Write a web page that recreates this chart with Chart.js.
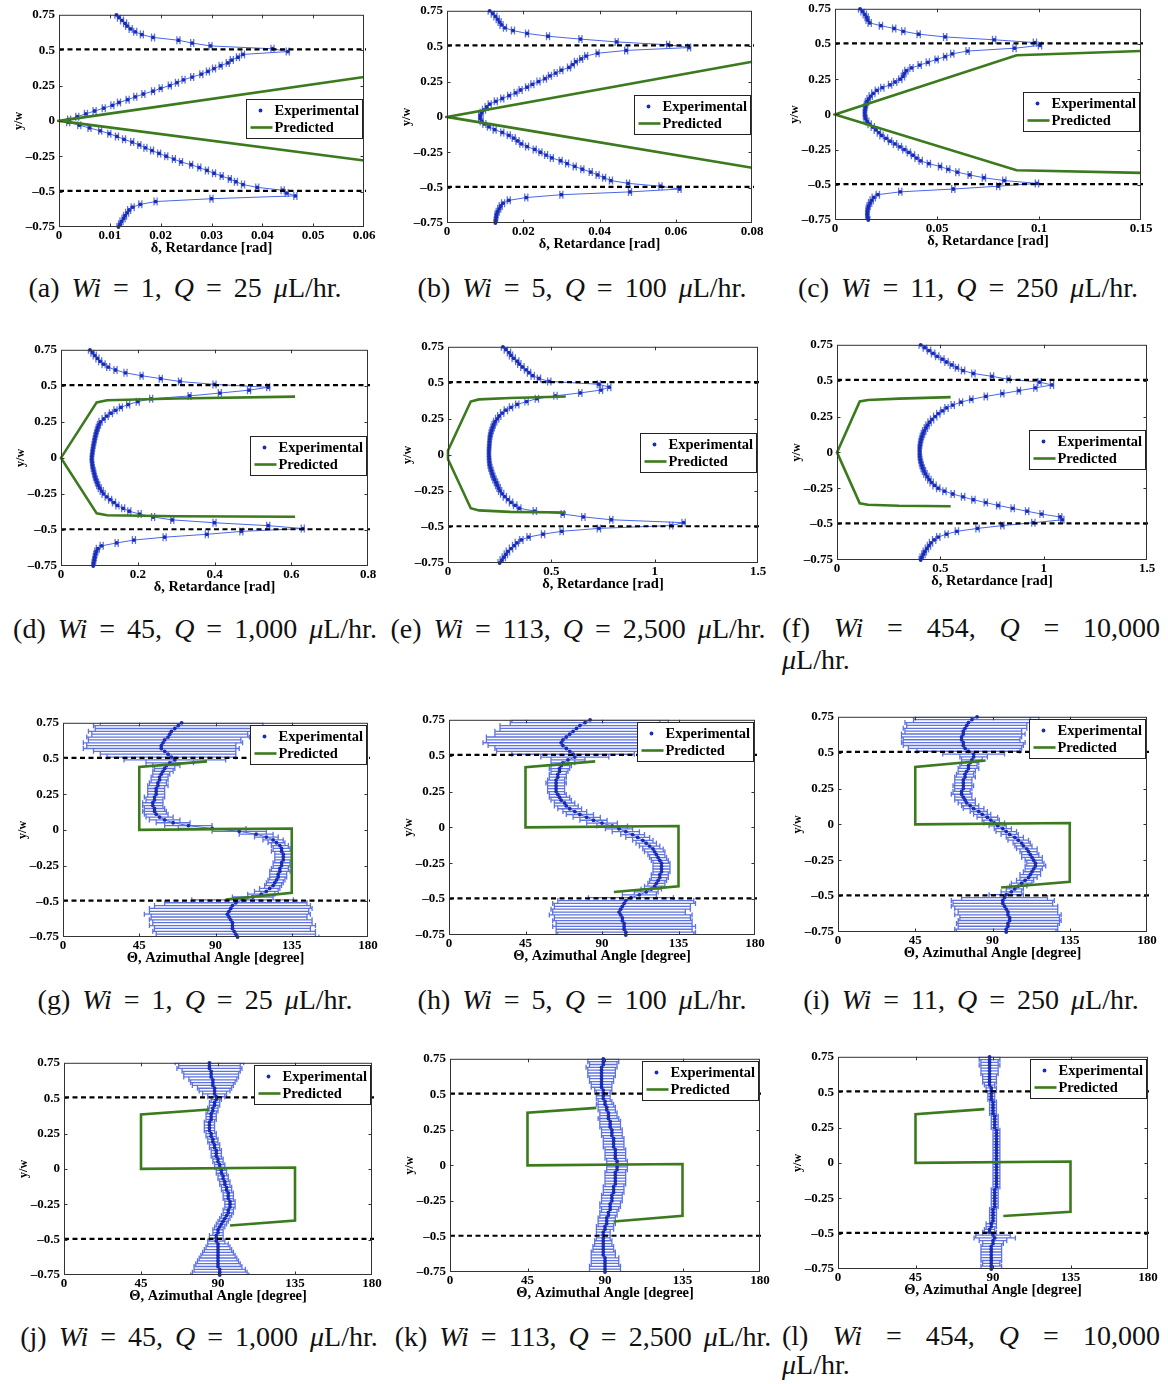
<!DOCTYPE html>
<html>
<head>
<meta charset="utf-8">
<script src="https://cdn.jsdelivr.net/npm/chart.js@4.4.1/dist/chart.umd.min.js"></script>
<style>
  html, body { margin: 0; padding: 0; background: #fff; }
  #fig { position: relative; width: 1168px; height: 1384px; background: #fff; overflow: hidden; }
  .cap { position: absolute; font-family: "Liberation Serif", "Times New Roman", serif; font-size: 28px;
         color: #111; white-space: nowrap; line-height: 30px; word-spacing: 5px; }
  .cap.center { text-align: center; }
  .cap.spread { display: flex; justify-content: space-between; word-spacing: 0; }
</style>
</head>
<body>
<div id="fig">
  <div class="cap center" style="left:-15px;top:273px;width:400px">(a) <i>Wi</i> = 1, <i>Q</i> = 25 <i>μ</i>L/hr.</div>
  <div class="cap center" style="left:382px;top:273px;width:400px">(b) <i>Wi</i> = 5, <i>Q</i> = 100 <i>μ</i>L/hr.</div>
  <div class="cap center" style="left:768px;top:273px;width:400px">(c) <i>Wi</i> = 11, <i>Q</i> = 250 <i>μ</i>L/hr.</div>

  <div class="cap center" style="left:-5px;top:614px;width:400px">(d) <i>Wi</i> = 45, <i>Q</i> = 1,000 <i>μ</i>L/hr.</div>
  <div class="cap center" style="left:378px;top:614px;width:400px">(e) <i>Wi</i> = 113, <i>Q</i> = 2,500 <i>μ</i>L/hr.</div>
  <div class="cap spread" style="left:782px;top:613px;width:378px"><span>(f)</span><span><i>Wi</i></span><span>=</span><span>454,</span><span><i>Q</i></span><span>=</span><span>10,000</span></div>
  <div class="cap" style="left:782px;top:645px"><i>μ</i>L/hr.</div>

  <div class="cap center" style="left:-5px;top:985px;width:400px">(g) <i>Wi</i> = 1, <i>Q</i> = 25 <i>μ</i>L/hr.</div>
  <div class="cap center" style="left:382px;top:985px;width:400px">(h) <i>Wi</i> = 5, <i>Q</i> = 100 <i>μ</i>L/hr.</div>
  <div class="cap center" style="left:771px;top:985px;width:400px">(i) <i>Wi</i> = 11, <i>Q</i> = 250 <i>μ</i>L/hr.</div>

  <div class="cap center" style="left:-1px;top:1322px;width:400px">(j) <i>Wi</i> = 45, <i>Q</i> = 1,000 <i>μ</i>L/hr.</div>
  <div class="cap center" style="left:383px;top:1322px;width:400px">(k) <i>Wi</i> = 113, <i>Q</i> = 2,500 <i>μ</i>L/hr.</div>
  <div class="cap spread" style="left:782px;top:1321px;width:378px"><span>(l)</span><span><i>Wi</i></span><span>=</span><span>454,</span><span><i>Q</i></span><span>=</span><span>10,000</span></div>
  <div class="cap" style="left:782px;top:1350px"><i>μ</i>L/hr.</div>
</div>
<script>
// Normalised channel position y/w of every measurement row (shared by all panels)
const yw = [
  0.75, 0.73, 0.71, 0.69, 0.67, 0.65, 0.63, 0.61, 0.59, 0.57,
  0.55, 0.53, 0.51, 0.49, 0.47, 0.45, 0.43, 0.41, 0.39, 0.37,
  0.35, 0.33, 0.31, 0.29, 0.27, 0.25, 0.23, 0.21, 0.19, 0.17,
  0.15, 0.13, 0.11, 0.09, 0.07, 0.05, 0.03, 0.01, -0.01, -0.03,
  -0.05, -0.07, -0.09, -0.11, -0.13, -0.15, -0.17, -0.19, -0.21, -0.23,
  -0.25, -0.27, -0.29, -0.31, -0.33, -0.35, -0.37, -0.39, -0.41, -0.43,
  -0.45, -0.47, -0.49, -0.51, -0.53, -0.55, -0.57, -0.59, -0.61, -0.63,
  -0.65, -0.67, -0.69, -0.71, -0.73, -0.75
];

// Measured retardance δ [rad]
const retA = [
  0.0113, 0.0118, 0.0124, 0.0130, 0.0134, 0.0141, 0.0150, 0.0163, 0.0185, 0.0235,
  0.0262, 0.0298, 0.0420, 0.0450, 0.0362, 0.0352, 0.0340, 0.0332, 0.0318, 0.0305,
  0.0293, 0.0280, 0.0262, 0.0245, 0.0232, 0.0218, 0.0200, 0.0185, 0.0166, 0.0150,
  0.0135, 0.0118, 0.0105, 0.0088, 0.0070, 0.0053, 0.0036, 0.0020, 0.0018, 0.0040,
  0.0060, 0.0081, 0.0099, 0.0114, 0.0128, 0.0144, 0.0158, 0.0170, 0.0183, 0.0197,
  0.0211, 0.0226, 0.0240, 0.0260, 0.0276, 0.0291, 0.0305, 0.0320, 0.0336, 0.0348,
  0.0362, 0.0390, 0.0440, 0.0448, 0.0465, 0.0300, 0.0190, 0.0160, 0.0145, 0.0138,
  0.0134, 0.0130, 0.0127, 0.0123, 0.0120, 0.0117
];
const retB = [
  0.0112, 0.0120, 0.0127, 0.0133, 0.0138, 0.0143, 0.0152, 0.0173, 0.0210, 0.0265,
  0.0350, 0.0445, 0.0580, 0.0635, 0.0470, 0.0395, 0.0365, 0.0352, 0.0338, 0.0330,
  0.0320, 0.0300, 0.0285, 0.0270, 0.0257, 0.0240, 0.0224, 0.0210, 0.0193, 0.0180,
  0.0163, 0.0145, 0.0128, 0.0112, 0.0104, 0.0097, 0.0091, 0.0087, 0.0087, 0.0091,
  0.0098, 0.0110, 0.0125, 0.0145, 0.0162, 0.0175, 0.0185, 0.0195, 0.0210, 0.0230,
  0.0245, 0.0260, 0.0275, 0.0298, 0.0315, 0.0335, 0.0355, 0.0377, 0.0395, 0.0412,
  0.0430, 0.0475, 0.0560, 0.0610, 0.0480, 0.0300, 0.0208, 0.0162, 0.0147, 0.0141,
  0.0137, 0.0133, 0.0130, 0.0129, 0.0128, 0.0127
];
const retC = [
  0.0123, 0.0135, 0.0146, 0.0155, 0.0160, 0.0170, 0.0225, 0.0290, 0.0335, 0.0410,
  0.0540, 0.0780, 0.0980, 0.1005, 0.0880, 0.0650, 0.0575, 0.0540, 0.0498, 0.0455,
  0.0415, 0.0375, 0.0350, 0.0340, 0.0333, 0.0320, 0.0295, 0.0270, 0.0232, 0.0205,
  0.0188, 0.0175, 0.0165, 0.0157, 0.0152, 0.0149, 0.0147, 0.0146, 0.0147, 0.0150,
  0.0158, 0.0170, 0.0185, 0.0200, 0.0215, 0.0228, 0.0250, 0.0270, 0.0294, 0.0318,
  0.0340, 0.0362, 0.0382, 0.0400, 0.0420, 0.0460, 0.0515, 0.0555, 0.0600, 0.0660,
  0.0730, 0.0830, 0.0990, 0.0800, 0.0580, 0.0320, 0.0210, 0.0190, 0.0180, 0.0172,
  0.0165, 0.0161, 0.0159, 0.0158, 0.0160, 0.0163
];
const retD = [
  0.0755, 0.0820, 0.0880, 0.0950, 0.1020, 0.1110, 0.1230, 0.1420, 0.1680, 0.2100,
  0.2600, 0.3100, 0.4000, 0.5400, 0.4900, 0.4140, 0.3350, 0.2350, 0.2000, 0.1750,
  0.1560, 0.1420, 0.1300, 0.1190, 0.1110, 0.1030, 0.0990, 0.0960, 0.0935, 0.0915,
  0.0895, 0.0880, 0.0865, 0.0850, 0.0835, 0.0825, 0.0815, 0.0805, 0.0800, 0.0810,
  0.0818, 0.0830, 0.0850, 0.0868, 0.0885, 0.0910, 0.0940, 0.0970, 0.1010, 0.1060,
  0.1110, 0.1190, 0.1280, 0.1380, 0.1470, 0.1620, 0.1780, 0.2050, 0.2400, 0.2900,
  0.4000, 0.5400, 0.6300, 0.4700, 0.3800, 0.2700, 0.1900, 0.1450, 0.1060, 0.0960,
  0.0920, 0.0895, 0.0880, 0.0865, 0.0850, 0.0840
];
const retE = [
  0.266, 0.280, 0.295, 0.305, 0.318, 0.335, 0.345, 0.360, 0.378, 0.392,
  0.410, 0.440, 0.490, 0.730, 0.780, 0.740, 0.640, 0.520, 0.430, 0.380,
  0.335, 0.305, 0.280, 0.262, 0.248, 0.238, 0.228, 0.221, 0.216, 0.211,
  0.207, 0.204, 0.202, 0.201, 0.200, 0.199, 0.198, 0.198, 0.198, 0.199,
  0.200, 0.202, 0.205, 0.210, 0.214, 0.219, 0.225, 0.232, 0.238, 0.245,
  0.252, 0.262, 0.275, 0.290, 0.305, 0.325, 0.345, 0.420, 0.555, 0.655,
  0.790, 1.140, 1.080, 0.730, 0.550, 0.460, 0.390, 0.355, 0.333, 0.320,
  0.305, 0.290, 0.280, 0.270, 0.260, 0.250
];
const retF = [
  0.405, 0.425, 0.445, 0.465, 0.485, 0.510, 0.530, 0.555, 0.580, 0.610,
  0.660, 0.750, 0.830, 0.980, 1.040, 0.960, 0.880, 0.800, 0.720, 0.650,
  0.600, 0.560, 0.530, 0.510, 0.490, 0.475, 0.460, 0.448, 0.438, 0.430,
  0.422, 0.416, 0.411, 0.407, 0.404, 0.402, 0.400, 0.400, 0.400, 0.401,
  0.403, 0.406, 0.410, 0.415, 0.421, 0.428, 0.437, 0.447, 0.458, 0.472,
  0.490, 0.520, 0.560, 0.610, 0.660, 0.720, 0.780, 0.850, 0.920, 0.990,
  1.080, 1.090, 0.950, 0.800, 0.680, 0.580, 0.530, 0.490, 0.470, 0.455,
  0.445, 0.435, 0.425, 0.418, 0.410, 0.405
];
// Half-width of the retardance error bars [rad]
const retErrA = 0.0003, retErrB = 0.0004, retErrC = 0.0008;
const retErrD = 0.004, retErrE = 0.008, retErrF = 0.008;

// Measured azimuthal angle Θ [degree] and its standard deviation
const angG = [
  70, 68, 66, 64, 63, 62, 60, 59, 58, 58,
  60, 62, 64, 66, 63, 61, 60, 59, 58, 57,
  57, 56, 56, 55, 55, 55, 54, 54, 53, 53,
  54, 54, 55, 57, 60, 65, 74, 88, 104, 114,
  120, 124, 126, 128, 129, 129, 130, 130, 130, 129,
  129, 128, 128, 127, 127, 126, 125, 124, 122, 120,
  117, 112, 106, 102, 100, 99, 98, 97, 98, 99,
  100, 100, 100, 101, 102, 103
];
const errG = [
  48, 50, 47, 49, 46, 48, 45, 47, 44, 46,
  42, 40, 38, 30, 14, 8, 6, 6, 5, 5,
  5, 5, 6, 5, 5, 5, 6, 5, 6, 6,
  6, 7, 7, 8, 9, 10, 14, 20, 16, 10,
  7, 6, 5, 5, 5, 6, 5, 5, 5, 5,
  5, 5, 6, 5, 5, 5, 5, 5, 6, 7,
  8, 12, 30, 42, 46, 48, 47, 49, 46, 48,
  47, 49, 46, 48, 47, 48
];
const angH = [
  83, 80, 77, 75, 73, 71, 69, 67, 66, 67,
  69, 71, 73, 74, 70, 67, 66, 65, 65, 64,
  64, 63, 63, 63, 63, 63, 64, 65, 66, 68,
  69, 71, 74, 77, 81, 85, 90, 96, 100, 104,
  108, 111, 114, 116, 118, 120, 121, 122, 123, 124,
  125, 125, 125, 125, 124, 124, 123, 122, 121, 119,
  116, 112, 107, 104, 103, 102, 101, 100, 101, 102,
  102, 103, 103, 103, 104, 104
];
const errH = [
  46, 44, 47, 45, 46, 44, 47, 45, 46, 44,
  42, 43, 36, 20, 10, 7, 6, 6, 5, 5,
  5, 5, 6, 5, 5, 5, 5, 6, 6, 6,
  7, 7, 7, 8, 8, 8, 9, 9, 8, 8,
  7, 7, 6, 6, 6, 6, 6, 5, 5, 5,
  5, 5, 5, 5, 5, 5, 5, 5, 6, 6,
  7, 10, 25, 40, 42, 40, 41, 39, 42, 40,
  41, 40, 42, 40, 41, 40
];
const angI = [
  81, 78, 76, 75, 74, 73, 73, 72, 72, 73,
  73, 74, 76, 79, 79, 78, 77, 76, 76, 75,
  74, 74, 73, 73, 73, 73, 72, 72, 73, 74,
  75, 77, 79, 82, 84, 87, 89, 91, 93, 96,
  98, 100, 103, 105, 107, 108, 110, 111, 112, 113,
  114, 115, 115, 114, 113, 112, 111, 109, 107, 105,
  103, 101, 98, 97, 96, 96, 97, 98, 99, 99,
  100, 100, 99, 99, 98, 98
];
const errI = [
  36, 34, 37, 35, 36, 34, 36, 35, 34, 36,
  35, 33, 30, 18, 8, 6, 5, 5, 6, 5,
  5, 6, 5, 5, 6, 5, 5, 6, 5, 6,
  5, 5, 6, 5, 5, 6, 5, 6, 5, 5,
  6, 5, 5, 6, 5, 5, 6, 5, 5, 6,
  5, 5, 6, 5, 5, 6, 5, 5, 6, 5,
  5, 6, 10, 25, 30, 29, 31, 30, 29, 31,
  29, 30, 30, 29, 30, 29
];
const angJ = [
  85, 85, 85, 86, 86, 86, 87, 87, 87, 88,
  88, 88, 89, 89, 88, 88, 87, 87, 86, 86,
  86, 85, 85, 85, 85, 86, 86, 87, 87, 88,
  88, 89, 89, 89, 90, 90, 91, 91, 92, 92,
  93, 93, 94, 94, 95, 95, 96, 96, 96, 97,
  97, 97, 96, 96, 95, 94, 93, 92, 91, 90,
  90, 89, 89, 89, 90, 90, 90, 90, 90, 90,
  90, 90, 90, 91, 91, 91
];
const errJ = [
  20, 18, 19, 17, 16, 16, 14, 13, 12, 10,
  9, 7, 5, 3, 3, 3, 3, 3, 3, 3,
  3, 3, 3, 3, 3, 3, 3, 3, 3, 3,
  3, 3, 3, 3, 3, 3, 3, 3, 3, 3,
  3, 3, 3, 3, 3, 3, 3, 3, 3, 3,
  3, 3, 3, 3, 3, 3, 3, 3, 3, 3,
  3, 4, 4, 5, 6, 7, 8, 9, 10, 11,
  12, 13, 14, 15, 16, 17
];
const angK = [
  89, 89, 89, 88, 88, 88, 88, 88, 88, 88,
  88, 89, 89, 89, 89, 90, 90, 91, 91, 92,
  92, 92, 93, 93, 93, 94, 94, 94, 95, 95,
  95, 95, 96, 96, 96, 96, 97, 97, 97, 97,
  96, 96, 96, 96, 96, 95, 95, 95, 94, 94,
  94, 93, 93, 93, 92, 92, 91, 91, 91, 90,
  90, 89, 89, 89, 89, 89, 89, 89, 89, 89,
  90, 90, 90, 90, 90, 90
];
const errK = [
  9, 9, 8, 9, 8, 8, 8, 7, 7, 6,
  6, 5, 4, 4, 4, 4, 5, 5, 5, 5,
  5, 6, 6, 6, 6, 6, 6, 6, 6, 6,
  6, 6, 6, 6, 6, 6, 6, 6, 6, 6,
  6, 6, 6, 6, 6, 6, 6, 6, 6, 6,
  6, 6, 6, 5, 5, 5, 5, 5, 5, 5,
  5, 4, 4, 4, 5, 5, 6, 6, 7, 7,
  8, 8, 8, 9, 9, 9
];
const angL = [
  88, 88, 88, 88, 88, 88, 88, 88, 88, 88,
  88, 89, 89, 89, 89, 89, 90, 90, 90, 90,
  90, 91, 91, 91, 91, 91, 92, 92, 92, 92,
  92, 92, 92, 92, 92, 92, 92, 92, 92, 92,
  92, 92, 92, 92, 92, 92, 92, 91, 91, 91,
  91, 91, 91, 91, 90, 90, 90, 90, 90, 89,
  89, 88, 88, 90, 91, 90, 90, 89, 89, 89,
  89, 89, 89, 89, 89, 89
];
const errL = [
  6, 6, 5, 6, 5, 5, 5, 4, 4, 4,
  3, 3, 3, 2, 2, 2, 2, 2, 2, 2,
  2, 2, 2, 2, 2, 2, 2, 2, 2, 2,
  2, 2, 2, 2, 2, 2, 2, 2, 2, 2,
  2, 2, 2, 2, 2, 2, 2, 2, 2, 2,
  2, 2, 2, 2, 2, 2, 2, 2, 2, 3,
  3, 3, 4, 10, 12, 8, 6, 6, 6, 6,
  6, 6, 6, 5, 6, 6
];

// Model prediction curves (x value, y/w)
const predAx = [0.06, 0, 0.06];
const predAy = [0.31, 0, -0.28];
const predBx = [0.08, 0, 0.08];
const predBy = [0.39, 0, -0.36];
const predCx = [0.15, 0.089, 0, 0.089, 0.15];
const predCy = [0.45, 0.42, 0, -0.397, -0.415];
const predDx = [0.61, 0.30, 0.12, 0.093, 0, 0.093, 0.12, 0.30, 0.61];
const predDy = [0.425, 0.412, 0.400, 0.385, 0, -0.385, -0.398, -0.405, -0.408];
const predEx = [0.57, 0.30, 0.15, 0.11, 0, 0, 0.11, 0.15, 0.30, 0.57];
const predEy = [0.405, 0.395, 0.385, 0.37, 0.03, -0.03, -0.37, -0.385, -0.395, -0.40];
const predFx = [0.55, 0.30, 0.15, 0.11, 0, 0.11, 0.15, 0.30, 0.55];
const predFy = [0.385, 0.375, 0.365, 0.355, 0, -0.355, -0.365, -0.372, -0.375];
const predGx = [85, 45, 45, 135, 135, 96];
const predGy = [0.48, 0.44, 0, 0.01, -0.44, -0.487];
const predHx = [86, 45, 45, 135, 135, 97];
const predHy = [0.46, 0.42, 0, 0.01, -0.41, -0.45];
const predIx = [86, 45, 45, 135, 135, 95];
const predIy = [0.445, 0.40, 0, 0.01, -0.40, -0.44];
const predJx = [85, 45, 45, 135, 135, 97];
const predJy = [0.42, 0.385, 0, 0.01, -0.365, -0.40];
const predKx = [85, 45, 45, 135, 135, 95];
const predKy = [0.405, 0.37, 0, 0.01, -0.355, -0.395];
const predLx = [85, 45, 45, 135, 135, 96];
const predLy = [0.38, 0.345, 0, 0.01, -0.345, -0.375];

// Channel walls (dashed lines)
const walls = [0.505, -0.495];

// Tick values and labels
const yTicks = [-0.75, -0.5, -0.25, 0, 0.25, 0.5, 0.75];
const yTickLabels = ['\u20130.75', '\u20130.5', '\u20130.25', '0', '0.25', '0.5', '0.75'];
const ticksA = [0, 0.01, 0.02, 0.03, 0.04, 0.05, 0.06];
const labelsA = ['0', '0.01', '0.02', '0.03', '0.04', '0.05', '0.06'];
const ticksB = [0, 0.02, 0.04, 0.06, 0.08];
const labelsB = ['0', '0.02', '0.04', '0.06', '0.08'];
const ticksC = [0, 0.05, 0.1, 0.15];
const labelsC = ['0', '0.05', '0.1', '0.15'];
const ticksD = [0, 0.2, 0.4, 0.6, 0.8];
const labelsD = ['0', '0.2', '0.4', '0.6', '0.8'];
const ticksEF = [0, 0.5, 1, 1.5];
const labelsEF = ['0', '0.5', '1', '1.5'];
const ticksAng = [0, 45, 90, 135, 180];
const labelsAng = ['0', '45', '90', '135', '180'];

const RET_TITLE = '\u03b4, Retardance [rad]';
const ANG_TITLE = '\u0398, Azimuthal Angle [degree]';

// ---- drawing setup ----
const SERIF = '"Liberation Serif", "Times New Roman", serif';
const GREEN = '#3b7a1d', LINE_BLUE = '#4a66e6', DOT_BLUE = '#1a2cb4', ERR_BLUE = '#5e73e0';
const PAD_L = 50, PAD_T = 10, PAD_R = 18, PAD_B = 30;

// plot boxes on the page: [left, top, right, bottom]
const panels = [
  { box: [59, 13, 364, 227],    max: 0.06, ticks: ticksA, labels: labelsA, xs: retA, err: retErrA, px: predAx, py: predAy, ret: true },
  { box: [447, 9, 752, 223],    max: 0.08, ticks: ticksB, labels: labelsB, xs: retB, err: retErrB, px: predBx, py: predBy, ret: true },
  { box: [835, 7, 1141, 220],   max: 0.15, ticks: ticksC, labels: labelsC, xs: retC, err: retErrC, px: predCx, py: predCy, ret: true },
  { box: [61, 348, 368, 566],   max: 0.8,  ticks: ticksD, labels: labelsD, xs: retD, err: retErrD, px: predDx, py: predDy, ret: true },
  { box: [448, 345, 758, 563],  max: 1.5,  ticks: ticksEF, labels: labelsEF, xs: retE, err: retErrE, px: predEx, py: predEy, ret: true },
  { box: [837, 343, 1147, 560], max: 1.5,  ticks: ticksEF, labels: labelsEF, xs: retF, err: retErrF, px: predFx, py: predFy, ret: true },
  { box: [63, 721, 368, 937],   max: 180, ticks: ticksAng, labels: labelsAng, xs: angG, err: errG, px: predGx, py: predGy, ret: false },
  { box: [449, 718, 755, 935],  max: 180, ticks: ticksAng, labels: labelsAng, xs: angH, err: errH, px: predHx, py: predHy, ret: false },
  { box: [838, 715, 1147, 932], max: 180, ticks: ticksAng, labels: labelsAng, xs: angI, err: errI, px: predIx, py: predIy, ret: false },
  { box: [64, 1061, 372, 1275], max: 180, ticks: ticksAng, labels: labelsAng, xs: angJ, err: errJ, px: predJx, py: predJy, ret: false },
  { box: [450, 1057, 760, 1272], max: 180, ticks: ticksAng, labels: labelsAng, xs: angK, err: errK, px: predKx, py: predKy, ret: false },
  { box: [838, 1055, 1148, 1269], max: 180, ticks: ticksAng, labels: labelsAng, xs: angL, err: errL, px: predLx, py: predLy, ret: false }
];

// Error bars under the markers; walls, axes box, inward ticks and legend on top
const panelDecor = {
  id: 'panelDecor',
  beforeDatasetsDraw(chart) {
    const { ctx, chartArea: a, scales: { x, y } } = chart;
    const exp = chart.data.datasets.find(d => d.xError !== undefined);
    ctx.save();
    ctx.beginPath();
    ctx.rect(a.left, a.top, a.right - a.left, a.bottom - a.top);
    ctx.clip();
    ctx.strokeStyle = ERR_BLUE;
    ctx.lineWidth = 1.3;
    ctx.beginPath();
    exp.data.forEach((pt, i) => {
      const e = Array.isArray(exp.xError) ? exp.xError[i] : exp.xError;
      const yy = y.getPixelForValue(pt.y);
      const x0 = x.getPixelForValue(pt.x - e);
      const x1 = x.getPixelForValue(pt.x + e);
      const h = exp.capHalf;
      ctx.moveTo(x0, yy); ctx.lineTo(x1, yy);
      ctx.moveTo(x0, yy - h); ctx.lineTo(x0, yy + h);
      ctx.moveTo(x1, yy - h); ctx.lineTo(x1, yy + h);
    });
    ctx.stroke();
    ctx.restore();
  },
  afterDatasetsDraw(chart, args, opts) {
    const { ctx, chartArea: a, scales: { x, y } } = chart;
    ctx.save();

    // channel walls
    ctx.strokeStyle = '#000';
    ctx.lineWidth = 2.2;
    ctx.setLineDash([5, 3.5]);
    walls.forEach(w => {
      const yy = y.getPixelForValue(w);
      ctx.beginPath();
      ctx.moveTo(a.left, yy);
      ctx.lineTo(a.right + 2, yy);
      ctx.stroke();
    });
    ctx.setLineDash([]);

    // axes box
    ctx.strokeStyle = '#333';
    ctx.lineWidth = 1;
    ctx.strokeRect(a.left + 0.5, a.top + 0.5, a.right - a.left - 1, a.bottom - a.top - 1);

    // inward ticks on all four sides
    const tl = 3.5;
    ctx.beginPath();
    x.ticks.forEach(t => {
      const xx = Math.round(x.getPixelForValue(t.value)) + 0.5;
      if (xx <= a.left + 1 || xx >= a.right - 1) return;
      ctx.moveTo(xx, a.bottom); ctx.lineTo(xx, a.bottom - tl);
      ctx.moveTo(xx, a.top); ctx.lineTo(xx, a.top + tl);
    });
    y.ticks.forEach(t => {
      const yy = Math.round(y.getPixelForValue(t.value)) + 0.5;
      if (yy <= a.top + 1 || yy >= a.bottom - 1) return;
      ctx.moveTo(a.left, yy); ctx.lineTo(a.left + tl, yy);
      ctx.moveTo(a.right, yy); ctx.lineTo(a.right - tl, yy);
    });
    ctx.stroke();

    // legend box
    const lw = 116, lh = 39;
    const lx = Math.round(a.right - 2 - lw) + 0.5;
    const ly = opts.atTop ? Math.round(a.top + 2) + 0.5
                          : Math.round(y.getPixelForValue(0.02) - lh / 2) + 0.5;
    ctx.fillStyle = '#fff';
    ctx.fillRect(lx, ly, lw, lh);
    ctx.strokeStyle = '#222';
    ctx.strokeRect(lx, ly, lw, lh);
    const r1 = ly + 11, r2 = ly + 28;
    ctx.fillStyle = DOT_BLUE;
    ctx.beginPath();
    ctx.arc(lx + 14, r1, 1.9, 0, Math.PI * 2);
    ctx.fill();
    ctx.strokeStyle = GREEN;
    ctx.lineWidth = 2.6;
    ctx.beginPath();
    ctx.moveTo(lx + 4, r2);
    ctx.lineTo(lx + 26, r2);
    ctx.stroke();
    ctx.fillStyle = '#000';
    ctx.font = 'bold 14.5px ' + SERIF;
    ctx.textBaseline = 'middle';
    ctx.textAlign = 'left';
    const names = chart.data.datasets.map(d => d.label);
    ctx.fillText(names[1], lx + 28, r1 + 1);
    ctx.fillText(names[0], lx + 28, r2 + 1);

    ctx.restore();
  }
};

Chart.defaults.font.family = SERIF;
const fig = document.getElementById('fig');

panels.forEach(p => {
  const [l, t, r, b] = p.box;
  const w = (r - l) + PAD_L + PAD_R;
  const h = (b - t) + PAD_T + PAD_B;
  const c = document.createElement('canvas');
  c.width = w; c.height = h;
  c.style.cssText = `position:absolute;left:${l - PAD_L}px;top:${t - PAD_T}px;width:${w}px;height:${h}px;`;
  fig.appendChild(c);

  const tickFont = { family: SERIF, size: 13, weight: 'bold' };
  new Chart(c, {
    type: 'scatter',
    data: {
      datasets: [
        {
          label: 'Predicted',
          data: p.px.map((v, i) => ({ x: v, y: p.py[i] })),
          showLine: true, borderColor: GREEN, borderWidth: 2.6,
          pointRadius: 0, order: 0, clip: 2
        },
        {
          label: 'Experimental',
          data: p.xs.map((v, i) => ({ x: v, y: yw[i] })),
          showLine: true, borderColor: LINE_BLUE, borderWidth: 1,
          pointRadius: 1.9, pointBackgroundColor: DOT_BLUE, pointBorderWidth: 0,
          order: 1, clip: 2,
          xError: p.err, capHalf: p.ret ? 4 : 2.5
        }
      ]
    },
    options: {
      responsive: false,
      animation: false,
      devicePixelRatio: 1,
      events: [],
      layout: { padding: { left: 0, top: PAD_T, right: PAD_R, bottom: 0 } },
      plugins: {
        legend: { display: false },
        tooltip: { enabled: false },
        panelDecor: { atTop: !p.ret }
      },
      scales: {
        x: {
          type: 'linear', min: 0, max: p.max,
          afterBuildTicks: s => { s.ticks = p.ticks.map(v => ({ value: v })); },
          afterFit: s => { s.height = PAD_B; },
          grid: { display: false, drawTicks: false },
          border: { display: false },
          ticks: { padding: 1, font: tickFont, color: '#000', maxRotation: 0, autoSkip: false,
                   callback: (v, i) => p.labels[i] },
          title: { display: true, text: p.ret ? RET_TITLE : ANG_TITLE, color: '#000',
                   font: { family: SERIF, size: 14.5, weight: 'bold' }, padding: { top: 0, bottom: 0 } }
        },
        y: {
          type: 'linear', min: -0.75, max: 0.75,
          afterBuildTicks: s => { s.ticks = yTicks.map(v => ({ value: v })); },
          afterFit: s => { s.width = PAD_L; },
          grid: { display: false, drawTicks: false },
          border: { display: false },
          ticks: { padding: 4, font: tickFont, color: '#000', autoSkip: false,
                   callback: (v, i) => yTickLabels[i] },
          title: { display: true, text: 'y/w', color: '#000',
                   font: { family: SERIF, size: 12, weight: 'bold' }, padding: { top: 3, bottom: 0 } }
        }
      }
    },
    plugins: [panelDecor]
  });
});
</script>
</body>
</html>
